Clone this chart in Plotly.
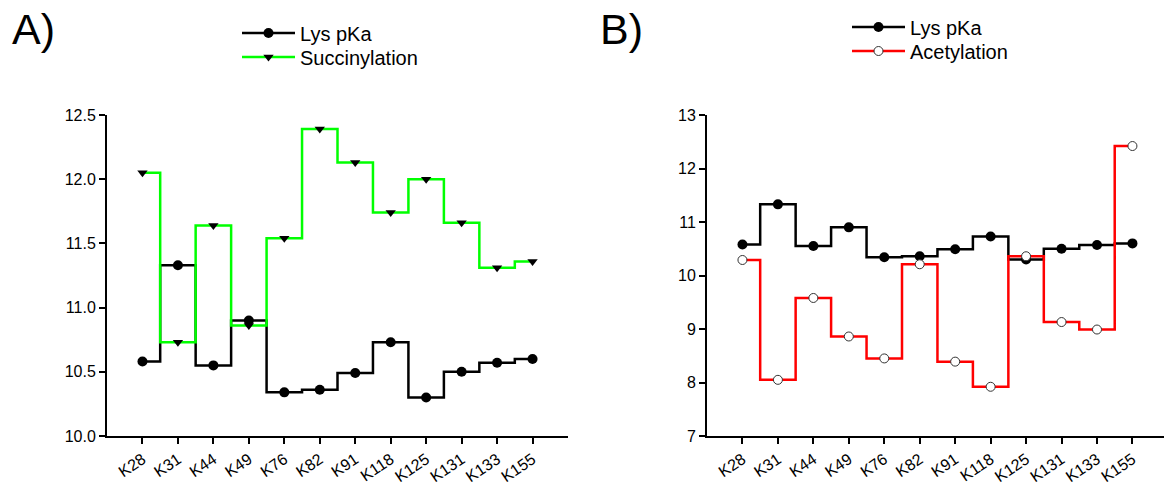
import plotly.graph_objects as go

sites = ["K28", "K31", "K44", "K49", "K76", "K82", "K91", "K118", "K125", "K131", "K133", "K155"]
lys_pka = [10.58, 11.33, 10.55, 10.90, 10.34, 10.36, 10.49, 10.73, 10.30, 10.50, 10.57, 10.60]
succinylation = [12.05, 10.73, 11.64, 10.86, 11.54, 12.39, 12.13, 11.74, 12.00, 11.66, 11.31, 11.36]
acetylation = [10.29, 8.05, 9.58, 8.86, 8.45, 10.21, 8.39, 7.92, 10.36, 9.13, 8.99, 12.42]

W, H = 1164, 487
TOP, BOT = 115, 436
FONT = "Liberation Sans, Arial, sans-serif"


def py(p):
    """pixel row -> paper y (paper spans plot area)"""
    return (BOT - p) / (BOT - TOP)


fig = go.Figure()

# Panel A
fig.add_trace(go.Scatter(x=sites, y=lys_pka, name="Lys pKa", mode="lines+markers",
                         line=dict(shape="hvh", color="black", width=2.5),
                         marker=dict(symbol="circle", size=10, color="black"),
                         xaxis="x", yaxis="y", legend="legend"))
fig.add_trace(go.Scatter(x=sites, y=succinylation, name="Succinylation", mode="lines+markers",
                         line=dict(shape="hvh", color="#00ff00", width=2.5),
                         marker=dict(symbol="triangle-down", size=9, color="black"),
                         xaxis="x", yaxis="y", legend="legend2"))

# Panel B
fig.add_trace(go.Scatter(x=sites, y=lys_pka, name="Lys pKa", mode="lines+markers",
                         line=dict(shape="hvh", color="black", width=2.5),
                         marker=dict(symbol="circle", size=10, color="black"),
                         xaxis="x2", yaxis="y2", legend="legend3"))
fig.add_trace(go.Scatter(x=sites, y=acetylation, name="Acetylation", mode="lines+markers",
                         line=dict(shape="hvh", color="#ff0000", width=2.5),
                         marker=dict(symbol="circle", size=9, color="white",
                                     line=dict(color="#333333", width=1)),
                         xaxis="x2", yaxis="y2", legend="legend4"))

axis_common = dict(showline=True, linecolor="black", linewidth=2, ticks="outside",
                   ticklen=6, tickwidth=1.5, tickcolor="black", showgrid=False,
                   zeroline=False, automargin=False)
ytick_font = dict(family=FONT, size=16, color="black")
xtick_font = dict(family=FONT, size=16, color="black")

xa_left, xa_right = 107 / W, 568 / W
xb_left = 707 / W


def leg(xpix, ycenter):
    return dict(x=xpix / W, y=py(ycenter), xanchor="left", yanchor="middle",
                bgcolor="rgba(0,0,0,0)", font=dict(family=FONT, size=20, color="black"),
                itemwidth=53, borderwidth=0, visible=True)


fig.update_layout(
    width=W, height=H,
    showlegend=True,
    margin=dict(l=0, r=0, t=TOP, b=H - BOT),
    paper_bgcolor="white", plot_bgcolor="white",
    font=dict(family=FONT, color="black"),
    xaxis=dict(domain=[xa_left, xa_right], range=[-1, 12], type="category",
               tickangle=-34, anchor="y", tickfont=xtick_font, **axis_common),
    yaxis=dict(domain=[0, 1], range=[10, 12.5], dtick=0.5, tickformat=".1f",
               anchor="x", tickfont=ytick_font, **axis_common),
    xaxis2=dict(domain=[xb_left, 1.0], range=[-1, 11.89], type="category",
                tickangle=-34, anchor="y2", tickfont=xtick_font, **axis_common),
    yaxis2=dict(domain=[0, 1], range=[7, 13], dtick=1, anchor="x2",
                tickfont=ytick_font, **axis_common),
    legend=leg(237, 33),
    legend2=leg(237, 57),
    legend3=leg(847, 27),
    legend4=leg(847, 51),
    annotations=[
        dict(text="A)", x=10 / W, y=py(29), xref="paper", yref="paper",
             xanchor="left", yanchor="middle", showarrow=False,
             font=dict(family=FONT, size=43, color="black")),
        dict(text="B)", x=598 / W, y=py(29), xref="paper", yref="paper",
             xanchor="left", yanchor="middle", showarrow=False,
             font=dict(family=FONT, size=43, color="black")),
    ],
)

fig.write_html("out.html")
